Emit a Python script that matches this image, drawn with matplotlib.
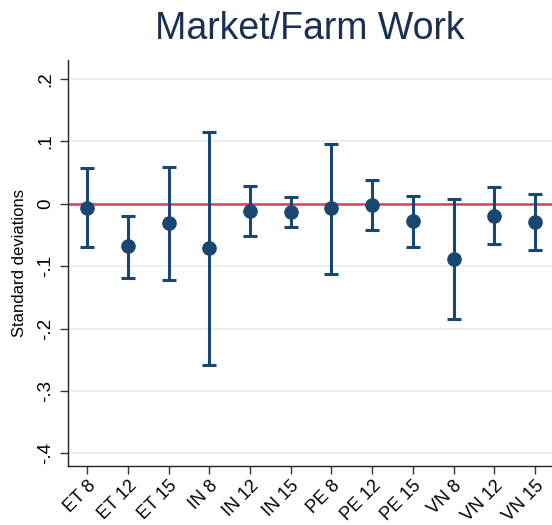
import numpy as np
import matplotlib.pyplot as plt

plt.rcParams['font.family'] = ['Liberation Sans', 'DejaVu Sans']

labels = ['ET 8', 'ET 12', 'ET 15', 'IN 8', 'IN 12', 'IN 15',
          'PE 8', 'PE 12', 'PE 15', 'VN 8', 'VN 12', 'VN 15']
est = [-0.007, -0.068, -0.031, -0.071, -0.011, -0.013,
       -0.0075, -0.002, -0.028, -0.088, -0.020, -0.029]
upper = [0.057, -0.019, 0.059, 0.115, 0.029, 0.011,
         0.096, 0.038, 0.013, 0.008, 0.027, 0.016]
lower = [-0.070, -0.119, -0.123, -0.258, -0.051, -0.037,
         -0.112, -0.042, -0.070, -0.184, -0.064, -0.0735]
yticks = [-0.4, -0.3, -0.2, -0.1, 0, 0.1, 0.2]
ytick_labels = ['-.4', '-.3', '-.2', '-.1', '0', '.1', '.2']

navy = '#1a476f'
x = np.arange(len(labels))
est = np.array(est)
yerr = [est - np.array(lower), np.array(upper) - est]

fig = plt.figure(figsize=(5.52, 5.25), dpi=100)
ax = fig.add_axes([0.1226, 0.1124, 0.8774, 0.7733])

for y in yticks:
    ax.axhline(y, color='#e6eef0', lw=1.2, zorder=0)
ax.axhline(0, color='#d6405d', lw=1.8, zorder=1)

ax.errorbar(x, est, yerr=yerr, fmt='o', color=navy, ms=9.5, elinewidth=2.2,
            capsize=4.8, capthick=2.2, zorder=3)

ax.set_xlim(-0.48, 11.42)
ax.set_ylim(-0.42, 0.23)
ax.set_xticks(x)
ax.set_xticklabels(labels, rotation=45, ha='right', rotation_mode='anchor', fontsize=13)
ax.set_yticks(yticks)
ax.set_yticklabels(ytick_labels, rotation=90, va='center', fontsize=13.5)
ax.tick_params(axis='both', length=6, width=1, color='#333333', pad=4)
ax.tick_params(axis='x', pad=2)
ax.set_ylabel('Standard deviations', fontsize=12, labelpad=7)

for side in ['top', 'right']:
    ax.spines[side].set_visible(False)
for side in ['left', 'bottom']:
    ax.spines[side].set_color('#222222')
    ax.spines[side].set_linewidth(1)

ax.set_title('Market/Farm Work', fontsize=27, color='#1c2e52', pad=15)

fig.savefig('out.png', dpi=100)
